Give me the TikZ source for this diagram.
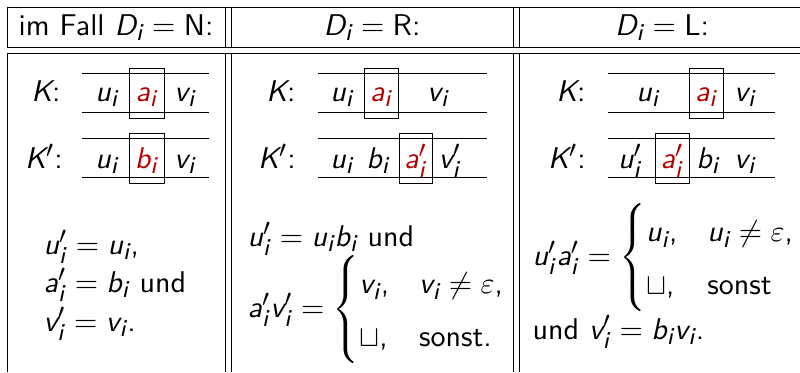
\documentclass[tikz,border=0pt]{standalone}
\usepackage{amsmath}
\renewcommand\familydefault{\sfdefault}
\usepackage[italic]{mathastext}
\definecolor{hl}{RGB}{180,0,0}
\begin{document}
\begin{tikzpicture}[x=1pt,y=-1pt,
  every node/.style={inner sep=0pt},
  txt/.style={scale=3, font=\fontsize{10}{14.75}\selectfont},
  rule/.style={line width=1pt},
  tape/.style={line width=0.9pt},
  cellbox/.style={draw, line width=0.9pt, minimum width=35pt, minimum height=50pt},
  lbl/.style={txt, anchor=base},
  eqn/.style={txt, anchor=base west}]
\useasboundingbox (0,0) rectangle (800,372);
% table rules
\draw[rule] (7,7) -- (800,7);
\draw[rule] (7,47) -- (800,47);
\draw[rule] (7,53) -- (800,53);
\foreach \x in {7,225,231,513,519} {
  \draw[rule] (\x,7) -- (\x,47);
  \draw[rule] (\x,53) -- (\x,372);
}
% header
\node[lbl] (h1) at (116,35) {im Fall $D_i=\text{N}$:};
\node[lbl] (h2) at (372,35) {$D_i=\text{R}$:};
\node[lbl] (h3) at (662,35) {$D_i=\text{L}$:};
% column 1
\draw[tape] (82,73) -- (209,73); \draw[tape] (82,112) -- (209,112);
\draw[tape] (82,138) -- (209,138); \draw[tape] (82,177) -- (209,177);
\node[cellbox] (b1) at (146.5,93) {};
\node[cellbox] (b2) at (146.5,158) {};
\node[lbl] (k1) at (46,101) {$K$:};
\node[lbl] (k1u) at (107,101) {$u_i$};
\node[lbl] (k1a) at (146.5,101) {$\color{hl}a_i$};
\node[lbl] (k1v) at (185,101) {$v_i$};
\node[lbl] (kp1) at (44,168) {$K'$:};
\node[lbl] (kp1u) at (107,168) {$u_i$};
\node[lbl] (kp1b) at (146.5,168) {$\color{hl}b_i$};
\node[lbl] (kp1v) at (185,168) {$v_i$};
\node[eqn] (e11) at (43,254) {$u_i'=u_i$,};
\node[eqn] (e12) at (43,292) {$a_i'=b_i$ und};
\node[eqn] (e13) at (43,331) {$v_i'=v_i$.};
% column 2
\draw[tape] (318,73) -- (487,73); \draw[tape] (318,112) -- (487,112);
\draw[tape] (318,138) -- (487,138); \draw[tape] (318,177) -- (487,177);
\node[cellbox, minimum width=34pt] (b3) at (381,93) {};
\node[cellbox, minimum width=33pt] (b4) at (415.5,158) {};
\node[lbl] (k2) at (281,101) {$K$:};
\node[lbl] (k2u) at (342,101) {$u_i$};
\node[lbl] (k2a) at (381,101) {$\color{hl}a_i$};
\node[lbl] (k2v) at (438,101) {$v_i$};
\node[lbl] (kp2) at (277,168) {$K'$:};
\node[lbl] (kp2u) at (342,168) {$u_i$};
\node[lbl] (kp2b) at (378,168) {$b_i$};
\node[lbl] (kp2a) at (415.5,168) {$\color{hl}a_i'$};
\node[lbl] (kp2v) at (450,168) {$v_i'$};
\node[eqn] (e21) at (247,246) {$u_i'=u_ib_i$ und};
\node[eqn] (e22) at (247,317) {$a_i'v_i'=\begin{cases} v_i, & v_i\neq\varepsilon,\\ \sqcup, & \text{sonst.}\end{cases}$};
% column 3
\draw[tape] (608,73) -- (775,73); \draw[tape] (608,112) -- (775,112);
\draw[tape] (608,138) -- (775,138); \draw[tape] (608,177) -- (775,177);
\node[cellbox, minimum width=34pt] (b5) at (706,93) {};
\node[cellbox, minimum width=34pt] (b6) at (672,158) {};
\node[lbl] (k3) at (571,101) {$K$:};
\node[lbl] (k3u) at (648,101) {$u_i$};
\node[lbl] (k3a) at (706,101) {$\color{hl}a_i$};
\node[lbl] (k3v) at (745,101) {$v_i$};
\node[lbl] (kp3) at (567,168) {$K'$:};
\node[lbl] (kp3u) at (630,168) {$u_i'$};
\node[lbl] (kp3a) at (672,168) {$\color{hl}a_i'$};
\node[lbl] (kp3b) at (708,168) {$b_i$};
\node[lbl] (kp3v) at (745,168) {$v_i$};
\node[eqn] (e31) at (532,265) {$u_i'a_i'=\begin{cases} u_i, & u_i\neq\varepsilon,\\ \sqcup, & \text{sonst}\end{cases}$};
\node[eqn] (e32) at (532,339) {und $v_i'=b_iv_i$.};
\end{tikzpicture}
\end{document}
